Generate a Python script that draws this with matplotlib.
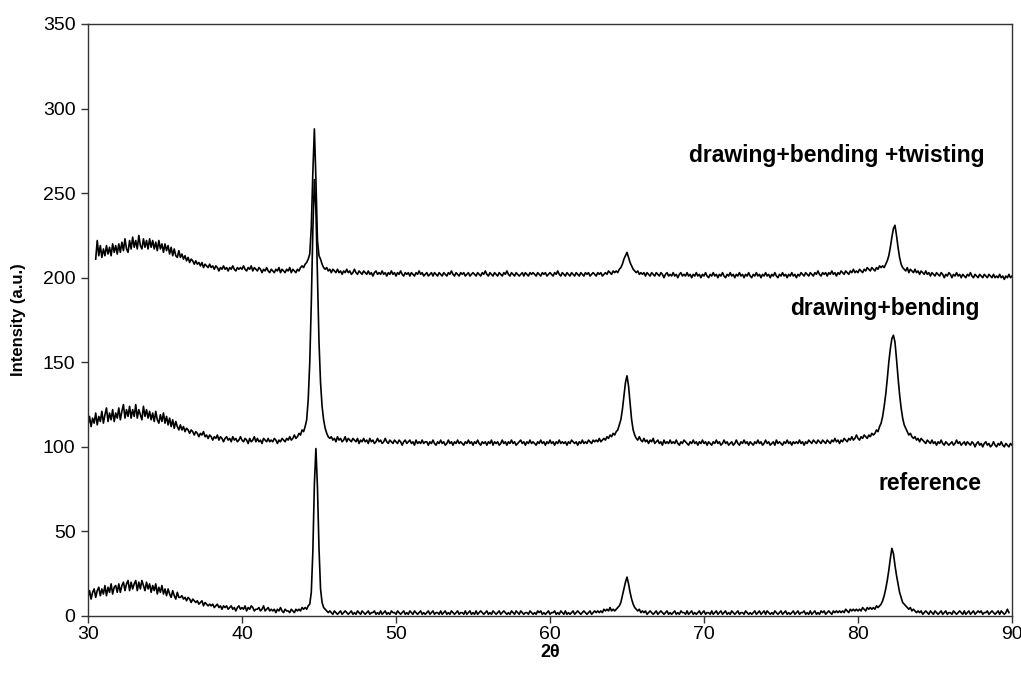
import numpy as np
import matplotlib
matplotlib.use("Agg")
import matplotlib.pyplot as plt

plt.rcParams["font.family"] = ["Liberation Sans", "DejaVu Sans"]

# XRD patterns, one value every 0.1 deg 2theta (rows = 1 degree)
reference = [
    11, 15, 10, 14, 16, 11, 15, 17, 12, 16,
    13, 18, 12, 17, 14, 19, 13, 17, 18, 14,
    19, 14, 18, 20, 15, 19, 21, 15, 20, 16,
    19, 21, 15, 20, 16, 21, 18, 15, 20, 16,
    19, 14, 18, 15, 19, 13, 17, 14, 18, 13,
    16, 12, 16, 13, 11, 15, 12, 10, 14, 11,
    11, 12, 10, 11, 9, 11, 10, 8, 10, 9,
    8, 9, 7, 8, 9, 6, 8, 7, 6, 7,
    6, 7, 5, 6, 7, 5, 6, 4, 6, 5,
    6, 4, 5, 6, 4, 5, 3, 5, 6, 4,
    5, 4, 6, 3, 5, 4, 6, 5, 3, 4,
    4, 5, 3, 4, 6, 3, 4, 5, 3, 4,
    3, 4, 2, 4, 3, 5, 3, 2, 4, 3,
    3, 2, 4, 3, 2, 4, 3, 4, 3, 5,
    4, 5, 4, 6, 7, 14, 38, 78, 99, 76,
    40, 16, 8, 5, 4, 3, 2, 3, 2, 1,
    3, 2, 1, 2, 3, 1, 2, 3, 2, 1,
    2, 3, 1, 2, 1, 3, 2, 1, 3, 2,
    1, 2, 3, 1, 2, 2, 3, 1, 2, 1,
    3, 1, 2, 3, 1, 2, 1, 3, 2, 2,
    1, 3, 2, 1, 2, 3, 1, 2, 1, 3,
    2, 1, 3, 2, 1, 2, 3, 1, 2, 1,
    2, 3, 1, 2, 3, 1, 2, 2, 1, 3,
    1, 2, 3, 1, 2, 1, 3, 2, 1, 2,
    3, 1, 2, 2, 1, 3, 1, 2, 3, 1,
    2, 1, 3, 1, 2, 3, 2, 1, 2, 3,
    1, 2, 1, 3, 2, 1, 2, 3, 1, 2,
    3, 2, 1, 2, 1, 3, 2, 1, 3, 2,
    1, 3, 2, 1, 2, 2, 1, 3, 2, 1,
    2, 1, 3, 2, 3, 1, 2, 1, 2, 3,
    1, 2, 2, 3, 1, 2, 1, 3, 2, 1,
    3, 1, 2, 1, 2, 3, 1, 2, 3, 2,
    1, 2, 3, 2, 1, 2, 3, 1, 2, 3,
    2, 3, 2, 3, 2, 4, 3, 4, 3, 5,
    3, 4, 3, 4, 5, 6, 8, 12, 16, 20,
    23, 19, 14, 10, 7, 5, 4, 3, 4, 2,
    3, 2, 3, 1, 2, 3, 2, 1, 2, 3,
    1, 2, 3, 2, 1, 2, 3, 1, 2, 1,
    2, 3, 1, 2, 1, 3, 2, 2, 1, 3,
    1, 2, 3, 1, 2, 1, 2, 3, 1, 2,
    3, 1, 2, 2, 1, 3, 1, 2, 3, 1,
    2, 3, 1, 2, 3, 1, 2, 1, 3, 2,
    1, 2, 3, 1, 2, 2, 1, 3, 2, 1,
    2, 1, 2, 3, 1, 2, 3, 1, 2, 3,
    1, 3, 2, 1, 2, 1, 3, 2, 1, 2,
    3, 1, 2, 3, 1, 2, 1, 2, 3, 1,
    2, 3, 1, 2, 2, 3, 1, 2, 1, 3,
    1, 2, 3, 1, 2, 1, 3, 2, 3, 1,
    2, 3, 2, 1, 3, 2, 3, 2, 3, 2,
    3, 2, 4, 3, 2, 4, 3, 4, 3, 4,
    3, 4, 3, 5, 4, 3, 5, 4, 5, 4,
    5, 4, 6, 5, 6, 7, 9, 12, 16, 21,
    27, 34, 40, 37, 30, 24, 19, 14, 11, 8,
    7, 6, 5, 4, 5, 3, 4, 3, 2, 3,
    2, 3, 1, 2, 3, 2, 1, 3, 2, 1,
    3, 2, 1, 2, 3, 1, 2, 3, 1, 2,
    2, 1, 3, 2, 1, 2, 3, 2, 1, 3,
    1, 2, 3, 1, 2, 3, 1, 2, 3, 2,
    3, 1, 2, 2, 3, 1, 2, 3, 2, 1,
    2, 3, 1, 3, 2, 1, 2, 4, 2,
]

drawing_bending = [
    113, 118, 112, 117, 114, 120, 113, 118, 115, 121,
    114, 119, 123, 115, 120, 116, 122, 115, 120, 117,
    123, 116, 121, 125, 117, 122, 118, 124, 117, 122,
    118, 125, 117, 122, 119, 116, 124, 118, 122, 117,
    121, 116, 120, 115, 121, 116, 114, 119, 115, 120,
    114, 118, 113, 117, 112, 116, 111, 115, 112, 110,
    113, 110, 112, 109, 111, 110, 108, 110, 109, 107,
    109, 108, 106, 108, 107, 109, 106, 107, 105, 107,
    106, 104, 106, 105, 107, 104, 106, 105, 103, 105,
    106, 104, 105, 103, 106, 104, 105, 103, 104, 106,
    104, 103, 105, 104, 102, 105, 103, 104, 106, 103,
    105, 103, 104, 102, 105, 104, 103, 105, 103, 104,
    103, 105, 104, 102, 104, 103, 105, 104, 103, 105,
    104, 106, 104, 105, 107, 105, 106, 108, 107, 110,
    109, 112, 116, 128, 150, 185, 228, 258, 240, 200,
    162, 138, 124, 116, 111, 108, 106, 105, 106, 104,
    105, 103, 106, 104, 105, 103, 104, 106, 103, 105,
    104, 103, 105, 104, 103, 105, 102, 104, 103, 105,
    103, 104, 102, 105, 103, 104, 102, 103, 105, 103,
    104, 102, 103, 105, 103, 102, 104, 103, 102, 104,
    103, 102, 104, 103, 101, 103, 104, 102, 103, 104,
    102, 103, 101, 104, 102, 103, 102, 104, 102, 103,
    103, 101, 103, 102, 104, 102, 101, 103, 102, 104,
    102, 103, 101, 102, 104, 102, 103, 101, 103, 102,
    104, 102, 103, 102, 101, 103, 102, 104, 102, 103,
    101, 103, 102, 104, 102, 101, 103, 102, 103, 101,
    103, 102, 104, 101, 103, 102, 103, 101, 102, 104,
    102, 103, 101, 103, 102, 104, 102, 103, 101, 102,
    103, 104, 102, 103, 101, 103, 102, 104, 102, 103,
    102, 101, 103, 102, 104, 102, 103, 101, 103, 102,
    104, 102, 103, 101, 103, 102, 104, 102, 103, 102,
    103, 101, 103, 102, 104, 103, 102, 103, 101, 103,
    102, 104, 102, 103, 102, 104, 103, 102, 104, 103,
    104, 103, 105, 103, 104, 105, 104, 106, 105, 107,
    106, 108, 107, 109, 110, 113, 116, 122, 130, 138,
    142, 136, 126, 116, 110, 107, 105, 104, 106, 104,
    103, 105, 103, 104, 102, 104, 103, 105, 102, 103,
    104, 102, 103, 101, 104, 102, 103, 102, 104, 102,
    103, 102, 104, 102, 101, 103, 102, 104, 103, 102,
    101, 103, 102, 104, 102, 103, 101, 103, 102, 104,
    102, 103, 101, 103, 102, 101, 103, 102, 104, 102,
    103, 101, 102, 104, 102, 103, 101, 102, 103, 101,
    102, 104, 102, 101, 103, 102, 104, 102, 103, 101,
    103, 102, 101, 103, 102, 104, 102, 103, 101, 102,
    104, 102, 103, 101, 102, 103, 101, 104, 102, 103,
    102, 101, 103, 102, 104, 102, 103, 101, 103, 102,
    103, 102, 104, 102, 103, 101, 103, 102, 104, 103,
    102, 104, 103, 102, 104, 103, 102, 104, 103, 102,
    104, 103, 102, 104, 103, 105, 103, 104, 102, 104,
    103, 105, 104, 103, 105, 104, 106, 104, 105, 107,
    105, 104, 106, 105, 107, 106, 105, 107, 106, 108,
    107, 108, 110, 109, 112, 114, 118, 124, 131, 140,
    150, 158, 164, 166, 162, 152, 141, 131, 123, 117,
    113, 111, 109, 107, 108, 106, 105, 106, 104, 105,
    103, 105, 104, 103, 102, 104, 103, 102, 104, 102,
    103, 101, 103, 102, 104, 102, 101, 103, 102, 101,
    102, 103, 101, 102, 104, 102, 103, 101, 102, 103,
    101, 103, 102, 101, 103, 102, 100, 102, 103, 101,
    102, 100, 102, 103, 101, 102, 100, 101, 103, 101,
    100, 102, 101, 103, 101, 100, 102, 101, 100, 102,
    101,
]

# this one starts at 30.5 deg
drawing_bending_twisting = [
    211, 222, 213, 219, 212,
    217, 213, 219, 214, 218, 213, 220, 215, 219, 214,
    220, 215, 221, 216, 223, 217, 215, 222, 217, 224,
    218, 222, 217, 225, 219, 217, 223, 218, 222, 217,
    223, 218, 222, 217, 221, 216, 222, 217, 220, 215,
    220, 216, 219, 214, 218, 213, 217, 213, 212, 216,
    212, 214, 211, 213, 210, 212, 209, 211, 210, 208,
    210, 208, 209, 207, 209, 206, 208, 207, 206, 208,
    206, 207, 205, 207, 206, 204, 206, 205, 207, 205,
    206, 204, 206, 205, 207, 205, 204, 206, 205, 206,
    205, 207, 205, 204, 206, 205, 207, 204, 206, 205,
    204, 206, 205, 203, 205, 204, 206, 204, 203, 205,
    204, 203, 205, 204, 206, 203, 205, 204, 203, 205,
    204, 206, 203, 205, 204, 203, 205, 204, 206, 207,
    206, 208, 209, 211, 214, 230, 262, 288, 258, 222,
    213, 211, 208, 206, 205, 206, 204, 205, 203, 205,
    204, 203, 205, 203, 204, 202, 204, 203, 205, 203,
    204, 202, 203, 205, 203, 202, 204, 203, 202, 204,
    203, 202, 204, 202, 203, 201, 203, 204, 202, 203,
    202, 204, 202, 203, 201, 203, 202, 204, 202, 203,
    201, 203, 202, 204, 202, 201, 203, 202, 203, 201,
    203, 202, 201, 203, 202, 204, 202, 203, 201, 202,
    203, 201, 202, 203, 201, 203, 202, 201, 203, 202,
    201, 203, 202, 201, 203, 202, 204, 202, 201, 203,
    202, 201, 203, 202, 203, 201, 202, 203, 201, 202,
    203, 202, 201, 203, 202, 201, 203, 202, 204, 202,
    201, 203, 202, 201, 203, 202, 201, 203, 202, 201,
    203, 202, 204, 202, 201, 203, 202, 201, 203, 202,
    201, 202, 203, 201, 203, 202, 201, 203, 202, 203,
    202, 201, 203, 202, 201, 203, 202, 203, 201, 202,
    203, 202, 201, 203, 202, 204, 202, 201, 203, 202,
    201, 203, 202, 201, 203, 202, 201, 203, 202, 201,
    203, 202, 201, 203, 202, 203, 201, 202, 203, 202,
    201, 203, 202, 203, 201, 202, 203, 202, 204, 203,
    202, 204, 203, 204, 203, 205, 206, 208, 211, 213,
    215, 212, 209, 207, 205, 204, 203, 204, 202, 203,
    202, 203, 201, 203, 202, 201, 203, 202, 201, 203,
    202, 201, 203, 202, 200, 202, 203, 201, 202, 201,
    203, 201, 202, 200, 202, 203, 201, 202, 201, 203,
    201, 202, 200, 202, 201, 203, 201, 202, 200, 202,
    201, 203, 201, 200, 202, 201, 203, 201, 202, 200,
    202, 201, 203, 201, 200, 202, 201, 203, 201, 202,
    200, 202, 201, 203, 201, 202, 200, 202, 201, 203,
    201, 200, 202, 201, 203, 201, 202, 200, 202, 201,
    203, 201, 202, 200, 202, 201, 203, 201, 200, 202,
    201, 203, 201, 202, 200, 202, 201, 203, 201, 202,
    200, 202, 201, 203, 202, 201, 203, 202, 201, 203,
    202, 201, 203, 202, 204, 202, 201, 203, 202, 203,
    201, 203, 202, 204, 202, 203, 201, 203, 202, 204,
    203, 202, 204, 203, 202, 204, 203, 205, 203, 204,
    203, 205, 204, 203, 205, 204, 206, 205, 204, 206,
    205, 204, 206, 205, 207, 206, 207, 206, 208, 210,
    213, 218, 224, 229, 231, 225, 218, 212, 208, 206,
    205, 204, 206, 203, 205, 204, 203, 205, 203, 204,
    202, 204, 203, 202, 204, 202, 203, 201, 203, 202,
    201, 203, 202, 201, 203, 202, 200, 202, 201, 203,
    202, 200, 202, 201, 203, 201, 202, 200, 202, 201,
    200, 202, 201, 203, 201, 200, 202, 201, 200, 202,
    201, 200, 202, 201, 200, 202, 201, 200, 202, 200,
    201, 200, 202, 200, 201, 199, 201, 200, 202, 200,
    201,
]

series = [
    (30.0, reference, "reference", 88.05, 78.6),
    (30.0, drawing_bending, "drawing+bending", 87.92, 182.0),
    (30.5, drawing_bending_twisting, "drawing+bending +twisting", 88.25, 272.5),
]

fig = plt.figure(figsize=(10.21, 6.82), dpi=100)
ax = fig.add_axes([88 / 1021, 66 / 682, 924 / 1021, 592 / 682])

for start, vals, label, lx, ly in series:
    x = start + 0.1 * np.arange(len(vals))
    ax.plot(x, vals, color="black", lw=1.2)
    ax.text(lx, ly, label, ha="right", va="center", fontsize=16.5,
            fontweight="bold")

ax.set_xlim(30, 90)
ax.set_ylim(0, 350)
ax.set_xticks(np.arange(30, 91, 10))
ax.set_yticks(np.arange(0, 351, 50))
ax.tick_params(direction="out", length=5, width=1, labelsize=14, pad=4,
               color="#333333")
ax.tick_params(axis="x", pad=2)
for sp in ax.spines.values():
    sp.set_linewidth(1.0)
    sp.set_color("#333333")

ax.set_xlabel("2θ", fontsize=13, fontweight="bold", labelpad=1)
ax.set_ylabel("Intensity (a.u.)", fontsize=12, fontweight="bold", labelpad=12)

fig.savefig("out.png", dpi=100)
